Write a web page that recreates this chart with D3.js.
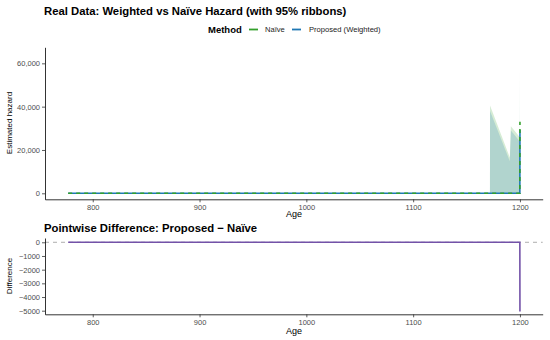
<!DOCTYPE html>
<html><head><meta charset="utf-8">
<script src="https://cdn.jsdelivr.net/npm/d3@7"></script>
<style>body{margin:0;background:#fff}svg{display:block;font-family:"Liberation Sans",Arial,sans-serif}</style>
</head><body><svg id="c" width="550" height="340"></svg>
<script>
// ---- data ----
const ages        = [777, 1171.9, 1172, 1190.5, 1191.5, 1199.7, 1199.9, 1200];
const naiveHazard = [0, 0, 0, 0, 0, 0, 0, 33000];
const propHazard  = [0, 0, 0, 0, 0, 0, 0, 29200];
const naiveLower  = [0, 0, 0, 0, 0, 0, 0, 0];
const naiveUpper  = [0, 0, 40500, 16500, 31000, 26000, 26000, 62000];
const propLower   = [0, 0, 0, 0, 0, 0, 0, 0];
const propUpper   = [0, 0, 38000, 14800, 29000, 24000, 24000, 58000];
const diffAges    = [777, 1199.9, 1200];
const diffValues  = [0, 0, -5050];
const xTicks      = [800, 900, 1000, 1100, 1200];
const hazTicks    = [0, 20000, 40000, 60000];
const diffTicks   = [0, -1000, -2000, -3000, -4000, -5000];
const methods     = ["Naïve", "Proposed (Weighted)"];
const colors      = {"Naïve": "#33a02c", "Proposed (Weighted)": "#1f78b4"};

const svg = d3.select("#c");
const x = d3.scaleLinear().domain([755.3, 1221.3]).range([45, 542.7]);
const yT = d3.scaleLinear().domain([-2770, 67400]).range([199.3, 47.3]);
const yB = d3.scaleLinear().domain([-5263, 314]).range([314.3, 238]);

// titles
svg.append("text").attr("x", 44).attr("y", 15).attr("font-size", 11.3).attr("font-weight", "bold").attr("fill", "#000")
  .text("Real Data: Weighted vs Naïve Hazard (with 95% ribbons)");
svg.append("text").attr("x", 44).attr("y", 232).attr("font-size", 11.3).attr("font-weight", "bold").attr("fill", "#000")
  .text("Pointwise Difference: Proposed − Naïve");

// legend
const lg = svg.append("g");
lg.append("text").attr("x", 208).attr("y", 32.5).attr("font-size", 9.5).attr("font-weight", "bold").text("Method");
const legPos = [{k: methods[0], x1: 249, tx: 265}, {k: methods[1], x1: 292, tx: 309}];
legPos.forEach(p => {
  lg.append("line").attr("x1", p.x1).attr("x2", p.x1 + 9).attr("y1", 29.5).attr("y2", 29.5)
    .attr("stroke", colors[p.k]).attr("stroke-width", 1.8);
  lg.append("text").attr("x", p.tx).attr("y", 32).attr("font-size", 7.6).attr("fill", "#222").text(p.k);
});

// top panel ribbons
const rows = ages.map((a, i) => ({a, n: naiveHazard[i], p: propHazard[i], nl: naiveLower[i], nu: naiveUpper[i], pl: propLower[i], pu: propUpper[i]}));
const areaN = d3.area().x(d => x(d.a)).y0(d => yT(d.nl)).y1(d => yT(d.nu));
const areaP = d3.area().x(d => x(d.a)).y0(d => yT(d.pl)).y1(d => yT(d.pu));
svg.append("path").datum(rows).attr("d", areaN).attr("fill", colors["Naïve"]).attr("fill-opacity", 0.2);
svg.append("path").datum(rows).attr("d", areaP).attr("fill", colors["Proposed (Weighted)"]).attr("fill-opacity", 0.2);

// lines
const lineP = d3.line().x(d => x(d.a)).y(d => yT(d.p));
const lineN = d3.line().x(d => x(d.a)).y(d => yT(d.n));
svg.append("path").datum(rows).attr("d", lineP).attr("fill", "none").attr("stroke", colors["Proposed (Weighted)"]).attr("stroke-width", 1.6);
svg.append("path").datum(rows).attr("d", lineN).attr("fill", "none").attr("stroke", colors["Naïve"]).attr("stroke-width", 1.6).attr("stroke-dasharray", "4,4");

// top axes
function styleAxis(g) {
  g.selectAll(".domain").attr("stroke", "#000").attr("stroke-width", 0.8);
  g.selectAll(".tick line").attr("stroke", "#333").attr("stroke-width", 0.8);
  g.selectAll(".tick text").attr("fill", "#4d4d4d").attr("font-size", 7.5).attr("font-family", "Liberation Sans,Arial,sans-serif");
}
const xAxT = svg.append("g").attr("transform", "translate(0,199.3)")
  .call(d3.axisBottom(x).tickValues(xTicks).tickSize(3).tickSizeOuter(0).tickPadding(2).tickFormat(d3.format("d")));
styleAxis(xAxT);
const yAxT = svg.append("g").attr("transform", "translate(45,0)")
  .call(d3.axisLeft(yT).tickValues(hazTicks).tickSize(3).tickSizeOuter(0).tickPadding(2).tickFormat(d3.format(",")));
styleAxis(yAxT);
svg.append("text").attr("x", 294).attr("y", 216.5).attr("text-anchor", "middle").attr("font-size", 9).text("Age");
svg.append("text").attr("transform", "translate(12,123) rotate(-90)").attr("text-anchor", "middle").attr("font-size", 8).text("Estimated hazard");

// bottom panel
svg.append("line").attr("x1", 45).attr("x2", 542.7).attr("y1", yB(0)).attr("y2", yB(0))
  .attr("stroke", "#999").attr("stroke-width", 0.8).attr("stroke-dasharray", "4,4");
const drows = diffAges.map((a, i) => ({a, v: diffValues[i]}));
svg.append("path").datum(drows).attr("d", d3.line().x(d => x(d.a)).y(d => yB(d.v)))
  .attr("fill", "none").attr("stroke", "#7352a8").attr("stroke-width", 1.6);
const xAxB = svg.append("g").attr("transform", "translate(0,314.3)")
  .call(d3.axisBottom(x).tickValues(xTicks).tickSize(3).tickSizeOuter(0).tickPadding(2).tickFormat(d3.format("d")));
styleAxis(xAxB);
const yAxB = svg.append("g").attr("transform", "translate(45,0)")
  .call(d3.axisLeft(yB).tickValues(diffTicks).tickSize(3).tickSizeOuter(0).tickPadding(2).tickFormat(d3.format("d")));
styleAxis(yAxB);
svg.append("text").attr("x", 294).attr("y", 334).attr("text-anchor", "middle").attr("font-size", 9).text("Age");
svg.append("text").attr("transform", "translate(12,276) rotate(-90)").attr("text-anchor", "middle").attr("font-size", 8).text("Difference");
</script></body></html>
